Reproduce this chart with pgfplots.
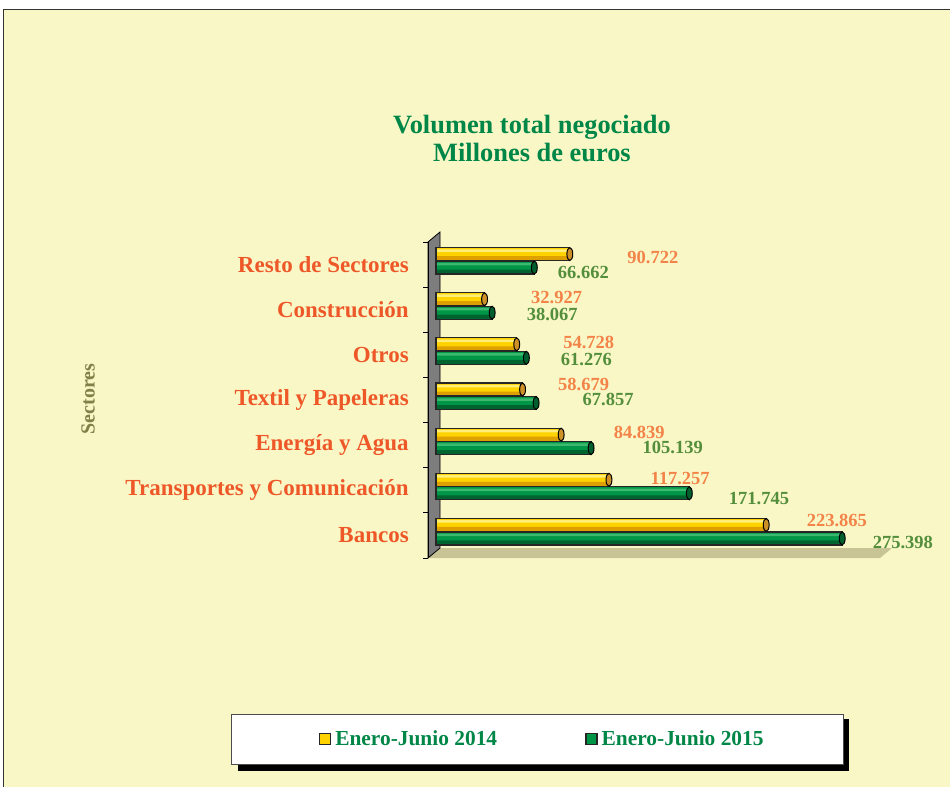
\documentclass[border=0pt]{standalone}
\usepackage{fontspec}
\setmainfont{Liberation Serif}
\usepackage{pgfplots}
\pgfplotsset{compat=1.18}
\usepackage{pgfplotstable}

\definecolor{bgyel}{RGB}{250,247,198}
\definecolor{titlegreen}{RGB}{0,135,72}
\definecolor{catorange}{RGB}{238,88,40}
\definecolor{labyel}{RGB}{243,131,72}
\definecolor{labgreen}{RGB}{83,142,60}
\definecolor{sectc}{RGB}{128,128,72}
\definecolor{wallgray}{RGB}{125,125,125}
\definecolor{floorc}{RGB}{200,196,150}
\definecolor{yelTop}{RGB}{255,238,120}
\definecolor{yelMid}{RGB}{255,210,0}
\definecolor{yelBot}{RGB}{222,160,0}
\definecolor{grnTop}{RGB}{60,185,110}
\definecolor{grnMid}{RGB}{0,150,72}
\definecolor{grnBot}{RGB}{0,100,48}
\definecolor{capY}{RGB}{205,145,40}
\definecolor{capG}{RGB}{0,95,45}

% y: 0 = Bancos ... 6 = Resto de Sectores; dx/dy = label offset (pt)
\pgfplotstableread{
y v dx dy lab
0 223.865 40 4.9 223.865
1 117.257 41 1.7 117.257
2 84.839 52 2.6 84.839
3 58.679 35 5.4 58.679
4 54.728 46 2.3 54.728
5 32.927 46 1.8 32.927
6 90.722 57 -3 90.722
}\tabA
\pgfplotstableread{
y v dx dy lab
0 275.398 30 -3.6 275.398
1 171.745 39 -4.8 171.745
2 105.139 51 1.1 105.139
3 67.857 46 3.9 67.857
4 61.276 34 -1.2 61.276
5 38.067 34 -1.8 38.067
6 66.662 23 -4.5 66.662
}\tabB

\pgfplotsset{
  band/.style n args={3}{xbar, forget plot, bar width=#1, bar shift=#2, fill=#3, draw=none},
}

\begin{document}
\begin{tikzpicture}
\useasboundingbox (0,0) rectangle (950pt,-787pt);
\begin{scope}[x=1pt,y=-1pt]
\fill[white] (0,0) rectangle (950,787);
\fill[bgyel] (3,9) rectangle (950,787);
\draw[black!80, line width=0.8pt] (3,787) -- (3,9) -- (950,9);
\fill[floorc] (428,558) -- (880,558) -- (892,548) -- (440,548) -- cycle;
\filldraw[fill=wallgray, draw=black, line width=0.8pt] (428,558) -- (428,242) -- (440,232) -- (440,548) -- cycle;
% legend shadow
\fill[black] (238,719) rectangle (849,771);
\end{scope}
\begin{axis}[
  scale only axis, width=450.6pt, height=316pt,
  at={(427.9pt,-558pt)}, anchor=south west,
  xmin=-5.5, xmax=300, ymin=-0.5, ymax=6.5,
  axis x line=none, axis y line*=left,
  axis line style={black, line width=0.8pt},
  ytick={0,...,6},
  yticklabels={Bancos,Transportes y Comunicación,Energía y Agua,Textil y Papeleras,Otros,Construcción,Resto de Sectores},
  major tick length=0pt, minor tick length=5pt,
  minor ytick={-0.5,0.5,...,6.5}, tick align=outside,
  tick style={black, line width=0.8pt},
  yticklabel style={font=\fontsize{23}{27}\selectfont\bfseries, text=catorange, inner sep=0pt, xshift=-19pt},
  ylabel={Sectores},
  ylabel style={at={(axis description cs:-0.754,0.503)}, anchor=center, font=\fontsize{20}{24}\selectfont\bfseries, text=sectc},
  title={Volumen total negociado\\Millones de euros},
  title style={at={(axis description cs:0.231,1.310)}, anchor=center, align=center, font=\fontsize{26.4}{28}\selectfont\bfseries, text=titlegreen},
  clip=false,
  legend columns=2,
  legend style={at={(axis description cs:0.2432,-0.5728)}, anchor=center, draw=black!70, fill=white,
    font=\fontsize{21.4}{25}\selectfont\bfseries, text=titlegreen,
    inner xsep=78pt, inner ysep=15pt,
    /tikz/every even column/.append style={column sep=86pt}},
  legend cell align=left,
]
\addlegendimage{legend image code/.code={\path (-10pt,0pt) (13.5pt,0pt); \draw[line width=1.6pt, draw=black!85, fill=yelMid] (0pt,-5.5pt) rectangle (11pt,5.5pt);}}
\addlegendentry{Enero-Junio 2014}
\addlegendimage{legend image code/.code={\path (13.5pt,0pt); \draw[line width=1.6pt, draw=black!85, fill=grnMid] (0pt,-5.5pt) rectangle (11pt,5.5pt);}}
\addlegendentry{Enero-Junio 2015}
% Enero-Junio 2014: cylinder bands, then outline with labels
\addplot[band={13pt}{10.5pt}{yelMid}] table[x=v, y=y] {\tabA};
\addplot[band={4.5pt}{6.25pt}{yelBot}] table[x=v, y=y] {\tabA};
\addplot[band={2.5pt}{14pt}{yelTop}] table[x=v, y=y] {\tabA};
\addplot[xbar, forget plot, bar width=13pt, bar shift=10.5pt, fill=none, draw=black!85, line width=1.2pt,
  point meta=explicit symbolic,
  visualization depends on={\thisrow{dx} \as \dx},
  visualization depends on={\thisrow{dy} \as \dy},
  nodes near coords,
  nodes near coords style={anchor=west, inner sep=0pt, xshift=\dx*1pt, yshift=(\dy+10.5)*1pt,
    font=\fontsize{18.5}{22}\selectfont\bfseries, text=labyel},
] table[x=v, y=y, meta=lab] {\tabA};
% Enero-Junio 2015
\addplot[band={13pt}{-3pt}{grnMid}] table[x=v, y=y] {\tabB};
\addplot[band={4.5pt}{-7.25pt}{grnBot}] table[x=v, y=y] {\tabB};
\addplot[band={2.5pt}{0.5pt}{grnTop}] table[x=v, y=y] {\tabB};
\addplot[xbar, forget plot, bar width=13pt, bar shift=-3pt, fill=none, draw=black!85, line width=1.2pt,
  point meta=explicit symbolic,
  visualization depends on={\thisrow{dx} \as \dx},
  visualization depends on={\thisrow{dy} \as \dy},
  nodes near coords,
  nodes near coords style={anchor=west, inner sep=0pt, xshift=\dx*1pt, yshift=(\dy-3)*1pt,
    font=\fontsize{18.5}{22}\selectfont\bfseries, text=labgreen},
] table[x=v, y=y, meta=lab] {\tabB};
% end caps of the cylinders
\addplot[only marks, forget plot, mark=*, mark size=6.5pt,
  mark options={xscale=0.45, yshift=10.5pt, fill=capY, draw=black, line width=1pt}]
  table[x=v, y=y] {\tabA};
\addplot[only marks, forget plot, mark=*, mark size=6.5pt,
  mark options={xscale=0.45, yshift=-3pt, fill=capG, draw=black, line width=1pt}]
  table[x=v, y=y] {\tabB};
\end{axis}
\end{tikzpicture}
\end{document}
